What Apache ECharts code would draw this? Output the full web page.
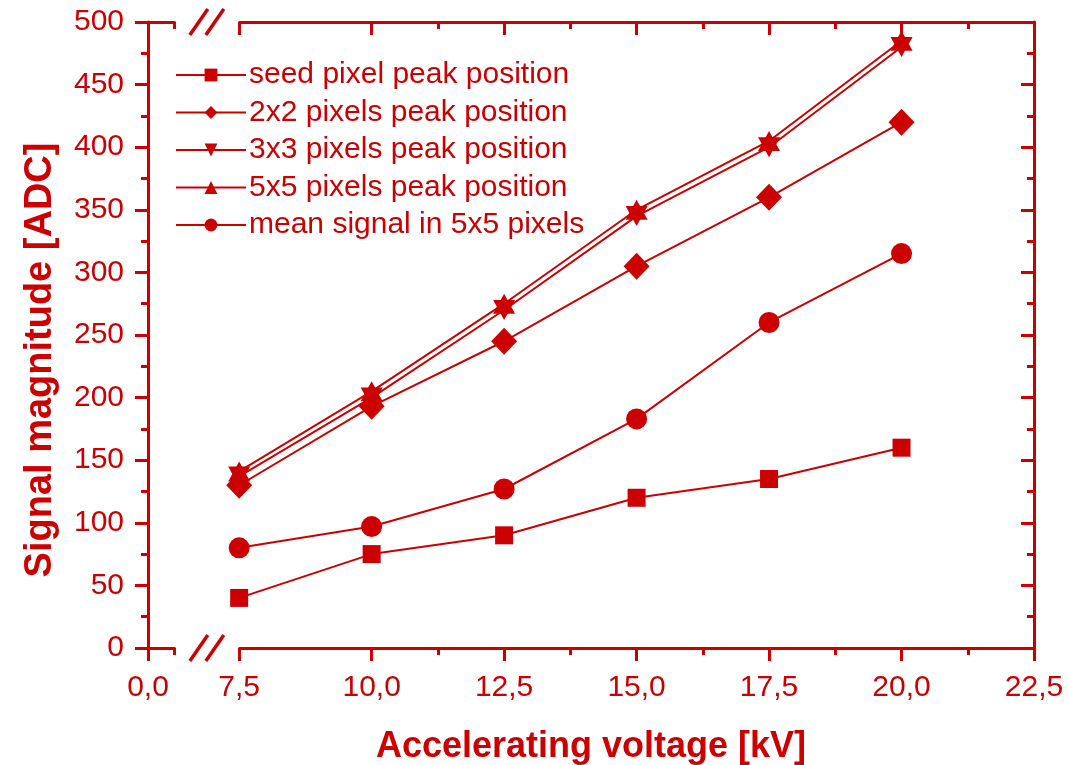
<!DOCTYPE html>
<html><head><meta charset="utf-8">
<script src="https://cdn.jsdelivr.net/npm/echarts@6/dist/echarts.min.js"></script>
<style>html,body{margin:0;padding:0;background:#fff}#c{width:1068px;height:765px}</style>
</head><body><div id="c"></div>
<script>
const voltages = [7.5, 10, 12.5, 15, 17.5, 20];
const seedPixel = [40, 75, 90, 120, 135, 160];
const pixels2x2 = [130, 193, 245, 305, 360, 420];
const pixels3x3 = [137, 200, 270, 345, 400, 480];
const pixels5x5 = [141, 205, 275, 350, 405, 485];
const mean5x5 = [80, 97, 127, 183, 260, 315];
const seriesNames = ['seed pixel peak position', '2x2 pixels peak position', '3x3 pixels peak position', '5x5 pixels peak position', 'mean signal in 5x5 pixels'];
const xTickValues = [0, 7.5, 10, 12.5, 15, 17.5, 20, 22.5];
const xMinorExtra = [0.5];
const xTitle = 'Accelerating voltage [kV]';
const yTitle = 'Signal magnitude [ADC]';
const xBreak = { start: 0.5, end: 7.5 };

const RED = '#CC0000';
const FONT = '"Liberation Sans", Arial, sans-serif';

function pairs(ys) { return voltages.map((x, i) => [x, ys[i]]); }

const symbolDefs = [
  { symbol: 'rect', size: 18, rotate: 0 },
  { symbol: 'diamond', size: [26, 27], rotate: 0 },
  { symbol: 'triangle', size: [22, 20], rotate: 180 },
  { symbol: 'triangle', size: [22, 20], rotate: 0 },
  { symbol: 'circle', size: 21, rotate: 0 }
];
const dataSets = [seedPixel, pixels2x2, pixels3x3, pixels5x5, mean5x5];

const chart = echarts.init(document.getElementById('c'), null, { renderer: 'canvas' });

function xLabel(v) {
  return v.toFixed(1).replace('.', ',');
}

const commonX = {
  type: 'value', min: 0, max: 22.5, interval: 2.5,
  breaks: [{ start: xBreak.start, end: xBreak.end, gap: '7.3%' }],
  breakArea: { show: false },
  breakLabelLayout: { moveOverlap: false },
  splitLine: { show: false },
  axisLine: { show: true, onZero: false, lineStyle: { color: RED, width: 3 } },
  minorTick: { show: true, splitNumber: 2, length: 7, lineStyle: { color: RED, width: 3 } }
};

const option = {
  animation: false,
  backgroundColor: '#ffffff',
  grid: { left: 148, right: 34, top: 22, bottom: 117, containLabel: false, outerBoundsMode: 'none' },
  legend: {
    orient: 'vertical', left: 170, top: 55,
    itemWidth: 70, itemHeight: 16, itemGap: 7.5,
    textStyle: { color: RED, fontSize: 30, lineHeight: 30, fontFamily: FONT, padding: [0, 0, 0, -2] },
    data: seriesNames
  },
  xAxis: [
    Object.assign({}, commonX, {
      position: 'bottom',
      name: xTitle, nameLocation: 'middle', nameGap: 81,
      nameTextStyle: { color: RED, fontSize: 36, fontWeight: 'bold', fontFamily: FONT },
      axisTick: { show: true, length: 13, customValues: xTickValues, lineStyle: { color: RED, width: 3 } },
      axisLabel: { color: RED, fontSize: 30, fontFamily: FONT, margin: 25, customValues: xTickValues, formatter: xLabel, showMinLabel: true, showMaxLabel: true, hideOverlap: false }
    }),
    Object.assign({}, commonX, {
      position: 'top',
      axisLabel: { show: false },
      axisTick: { show: true, inside: true, length: 13, customValues: xTickValues, lineStyle: { color: RED, width: 3 } }
    })
  ],
  yAxis: [
    {
      type: 'value', min: 0, max: 500, interval: 50, position: 'left',
      name: yTitle, nameLocation: 'middle', nameGap: 88,
      nameTextStyle: { color: RED, fontSize: 38, fontWeight: 'bold', fontFamily: FONT, padding: [0, 50, 0, 0] },
      splitLine: { show: false },
      axisLine: { show: true, onZero: false, lineStyle: { color: RED, width: 3 } },
      axisTick: { show: true, length: 13, lineStyle: { color: RED, width: 3 } },
      minorTick: { show: true, splitNumber: 2, length: 7, lineStyle: { color: RED, width: 3 } },
      axisLabel: { color: RED, fontSize: 30, fontFamily: FONT, margin: 24 }
    },
    {
      type: 'value', min: 0, max: 500, interval: 50, position: 'right',
      splitLine: { show: false },
      axisLine: { show: true, onZero: false, lineStyle: { color: RED, width: 3 } },
      axisTick: { show: true, inside: true, length: 13, lineStyle: { color: RED, width: 3 } },
      minorTick: { show: true, splitNumber: 2, length: 7, lineStyle: { color: RED, width: 3 } },
      axisLabel: { show: false }
    }
  ],
  series: dataSets.map((ys, i) => ({
    name: seriesNames[i],
    type: 'line',
    xAxisIndex: 0, yAxisIndex: 0,
    data: pairs(ys),
    symbol: symbolDefs[i].symbol,
    symbolSize: symbolDefs[i].size,
    symbolRotate: symbolDefs[i].rotate,
    showAllSymbol: true,
    lineStyle: { color: RED, width: 2 },
    itemStyle: { color: RED, borderWidth: 0 },
    emphasis: { disabled: true }
  }))
};

chart.setOption(option);

// decorations: axis-break "//" marks and the short tick left of the break
function drawDecorations() {
  const a = chart.convertToPixel({ xAxisIndex: 0 }, xBreak.start);
  const b = chart.convertToPixel({ xAxisIndex: 0 }, xBreak.end);
  const cx = (a + b) / 2;
  const yb = chart.convertToPixel({ yAxisIndex: 0 }, 0);
  const yt = chart.convertToPixel({ yAxisIndex: 0 }, 500);
  const els = [];
  [yb, yt].forEach(y => {
    els.push({ type: 'rect', shape: { x: cx - 8, y: y - 3, width: 16, height: 6 }, style: { fill: '#fff' }, z: 100 });
    [-8, 8].forEach(dx => {
      els.push({
        type: 'line',
        shape: { x1: cx + dx - 9, y1: y + 13, x2: cx + dx + 9, y2: y - 13 },
        style: { stroke: RED, lineWidth: 3.5 }, z: 101
      });
    });
  });
  xMinorExtra.forEach(v => {
    const px = chart.convertToPixel({ xAxisIndex: 0 }, v);
    els.push({ type: 'line', shape: { x1: px, y1: yb, x2: px, y2: yb + 7 }, style: { stroke: RED, lineWidth: 3 }, z: 99 });
    els.push({ type: 'line', shape: { x1: px, y1: yt, x2: px, y2: yt + 7 }, style: { stroke: RED, lineWidth: 3 }, z: 99 });
  });
  chart.setOption({ graphic: els });
}
drawDecorations();
</script></body></html>
